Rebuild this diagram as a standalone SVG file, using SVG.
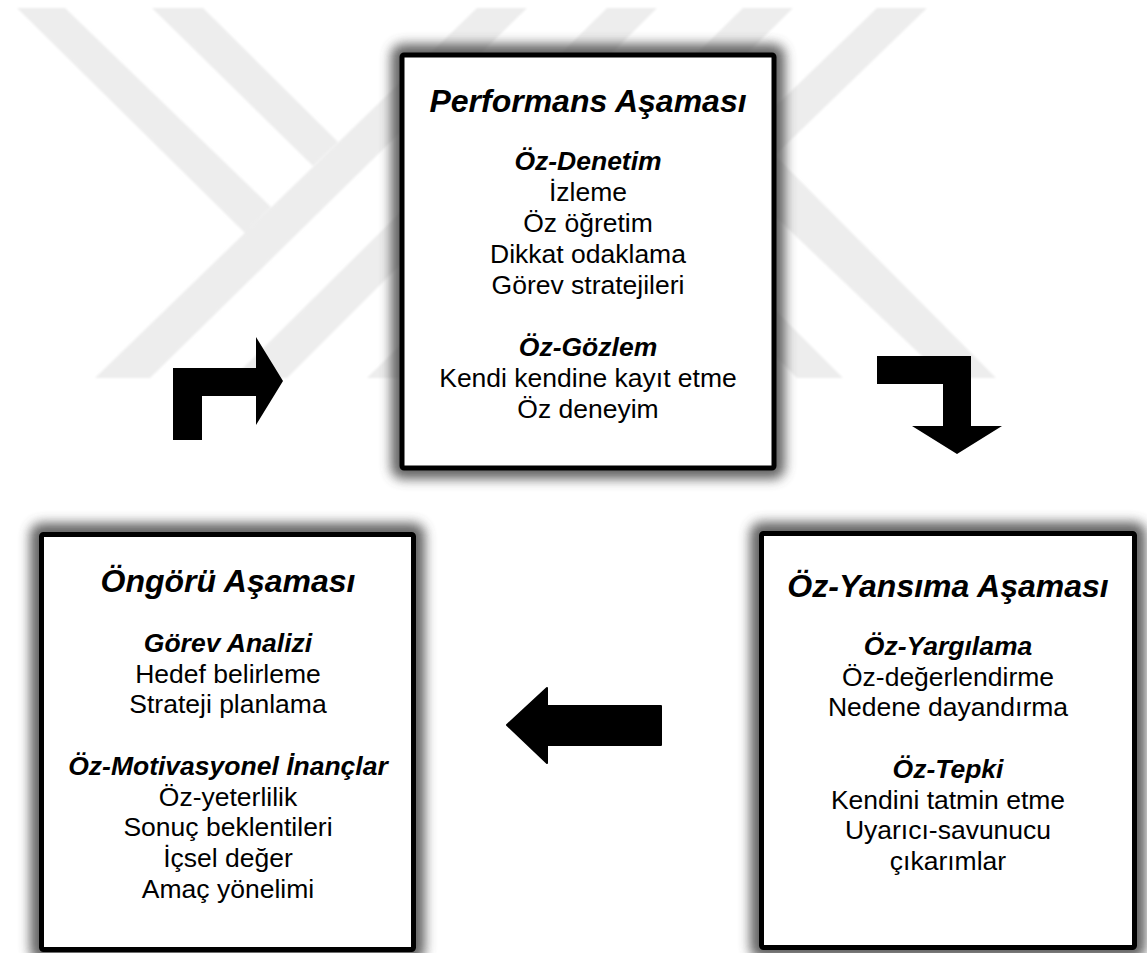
<svg xmlns="http://www.w3.org/2000/svg" width="1147" height="953" viewBox="0 0 1147 953">
  <defs>
    <filter id="soft" x="-5%" y="-5%" width="110%" height="110%">
      <feGaussianBlur stdDeviation="0.8"/>
    </filter>
    <filter id="glow" x="-20%" y="-20%" width="140%" height="140%">
      <feGaussianBlur stdDeviation="6"/>
    </filter>
    <style>
      .wm { fill: #ededed; }
      .shadow { fill: #4a4a4a; opacity: 0.85; }
      .box { fill: #ffffff; stroke: #000000; stroke-width: 5; }
      .title { font-family: "Liberation Sans", Arial, sans-serif; font-size: 32px; font-weight: bold; font-style: italic; text-anchor: middle; fill: #000; }
      .head { font-family: "Liberation Sans", Arial, sans-serif; font-size: 26.5px; font-weight: bold; font-style: italic; text-anchor: middle; fill: #000; }
      .item { font-family: "Liberation Sans", Arial, sans-serif; font-size: 26.5px; text-anchor: middle; fill: #000; }
      .arrow { fill: #000; }
    </style>
  </defs>

  <rect width="1147" height="953" fill="#ffffff"/>

  <!-- background logo bands -->
  <g id="backdrop" filter="url(#soft)">
    <polygon class="wm" points="477,8 527,8 150,378 95,378"/>
    <polygon class="wm" points="607,8 657,8 287,378 233,378"/>
    <polygon class="wm" points="743,8 793,8 420,378 367,378"/>
    <polygon class="wm" points="877,8 927,8 545,378 495,378"/>
    <polygon class="wm" points="17,8 65,8 271,207 245,233"/>
    <polygon class="wm" points="152,8 203,8 338,142 313,166"/>
    <polygon class="wm" points="797,378 843,378 700,235 655,235"/>
    <polygon class="wm" points="945,378 996,378 700,80 700,145"/>
  </g>

  <!-- connectors: block arrows between phases -->
  <g id="connectors">
    <polygon class="arrow" points="173,368 256,368 256,337 283,381 256,425 256,396 202,396 202,440 173,440"/>
    <polygon class="arrow" points="877,356 971,356 971,426 1002,426 957,454 912,426 943,426 943,384 877,384"/>
    <polygon class="arrow" points="661,706 547,706 547,688 507,725 547,763 547,745 661,745" stroke="#000" stroke-width="2" stroke-linejoin="round"/>
  </g>

  <!-- Performans phase -->
  <g id="performans">
    <rect class="shadow" x="391" y="44" width="394" height="435" rx="12" filter="url(#glow)"/>
    <rect class="box" x="402" y="55" width="372" height="413" rx="2"/>
    <text class="title" x="588" y="112">Performans Aşaması</text>
    <text class="head" x="588" y="170">Öz-Denetim</text>
    <text class="item" x="588" y="201">İzleme</text>
    <text class="item" x="588" y="232">Öz öğretim</text>
    <text class="item" x="588" y="263">Dikkat odaklama</text>
    <text class="item" x="588" y="294">Görev stratejileri</text>
    <text class="head" x="588" y="356">Öz-Gözlem</text>
    <text class="item" x="588" y="387">Kendi kendine kayıt etme</text>
    <text class="item" x="588" y="418">Öz deneyim</text>
  </g>

  <!-- Öngörü phase -->
  <g id="ongoru">
    <rect class="shadow" x="30" y="523" width="395" height="438" rx="12" filter="url(#glow)"/>
    <rect class="box" x="41.5" y="534.5" width="372" height="415" rx="2"/>
    <text class="title" x="228" y="592">Öngörü Aşaması</text>
    <text class="head" x="228" y="652">Görev Analizi</text>
    <text class="item" x="228" y="682.7">Hedef belirleme</text>
    <text class="item" x="228" y="713.4">Strateji planlama</text>
    <text class="head" x="228" y="774.8">Öz-Motivasyonel İnançlar</text>
    <text class="item" x="228" y="805.5">Öz-yeterlilik</text>
    <text class="item" x="228" y="836.2">Sonuç beklentileri</text>
    <text class="item" x="228" y="866.9">İçsel değer</text>
    <text class="item" x="228" y="897.6">Amaç yönelimi</text>
  </g>

  <!-- Öz-Yansıma phase -->
  <g id="oz-yansima">
    <rect class="shadow" x="750" y="522" width="396" height="437" rx="12" filter="url(#glow)"/>
    <rect class="box" x="761.5" y="533.5" width="373" height="414" rx="2"/>
    <text class="title" x="948" y="597">Öz-Yansıma Aşaması</text>
    <text class="head" x="948" y="655">Öz-Yargılama</text>
    <text class="item" x="948" y="685.7">Öz-değerlendirme</text>
    <text class="item" x="948" y="716.4">Nedene dayandırma</text>
    <text class="head" x="948" y="777.8">Öz-Tepki</text>
    <text class="item" x="948" y="808.5">Kendini tatmin etme</text>
    <text class="item" x="948" y="839.2">Uyarıcı-savunucu</text>
    <text class="item" x="948" y="869.9">çıkarımlar</text>
  </g>
</svg>
